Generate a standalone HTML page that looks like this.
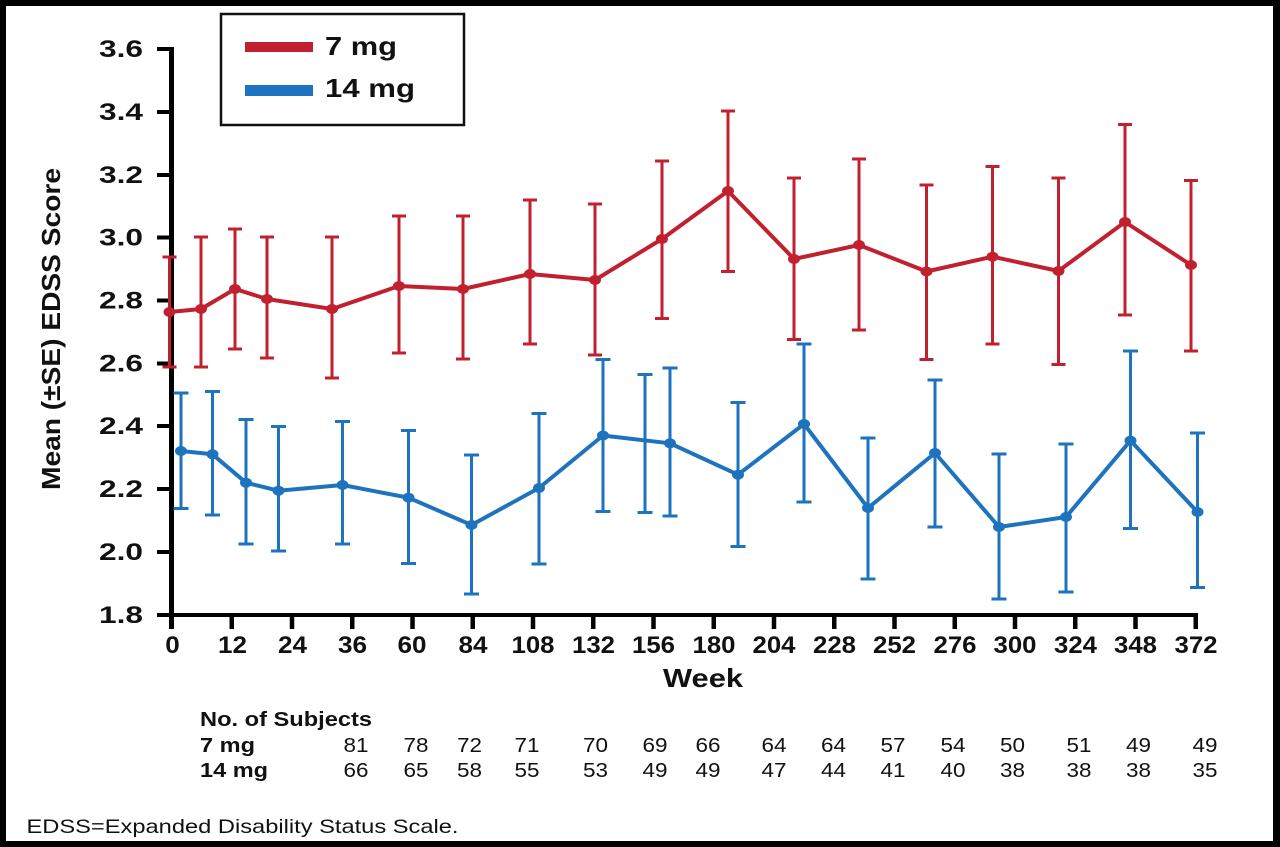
<!DOCTYPE html>
<html>
<head>
<meta charset="utf-8">
<style>
  html,body{margin:0;padding:0;background:#000;}
  svg{display:block;}
  text{font-family:"Liberation Sans",Arial,sans-serif;fill:#111;}
  .b{font-weight:bold;}
</style>
</head>
<body>
<svg width="1280" height="847" viewBox="0 0 1280 847" xmlns="http://www.w3.org/2000/svg">
  <rect x="0" y="0" width="1280" height="847" fill="#000"/>
  <rect x="6" y="6" width="1267" height="835" fill="#fff"/>

  <!-- Y axis -->
  <line x1="171.5" y1="47" x2="171.5" y2="629" stroke="#000" stroke-width="5"/>
  <!-- X axis -->
  <line x1="169" y1="615" x2="1198" y2="615" stroke="#000" stroke-width="4"/>

  <!-- Y ticks -->
  <g stroke="#000" stroke-width="4">
    <line x1="157" y1="49" x2="172" y2="49"/>
    <line x1="157" y1="112" x2="172" y2="112"/>
    <line x1="157" y1="175" x2="172" y2="175"/>
    <line x1="157" y1="237.5" x2="172" y2="237.5"/>
    <line x1="157" y1="300.5" x2="172" y2="300.5"/>
    <line x1="157" y1="363.5" x2="172" y2="363.5"/>
    <line x1="157" y1="426" x2="172" y2="426"/>
    <line x1="157" y1="489" x2="172" y2="489"/>
    <line x1="157" y1="552" x2="172" y2="552"/>
    <line x1="157" y1="615" x2="172" y2="615"/>
  </g>
  <g class="b" font-size="24" text-anchor="end">
    <text x="143" y="57" textLength="44" lengthAdjust="spacingAndGlyphs">3.6</text>
    <text x="143" y="120" textLength="44" lengthAdjust="spacingAndGlyphs">3.4</text>
    <text x="143" y="183" textLength="44" lengthAdjust="spacingAndGlyphs">3.2</text>
    <text x="143" y="245.5" textLength="44" lengthAdjust="spacingAndGlyphs">3.0</text>
    <text x="143" y="308.5" textLength="44" lengthAdjust="spacingAndGlyphs">2.8</text>
    <text x="143" y="371.5" textLength="44" lengthAdjust="spacingAndGlyphs">2.6</text>
    <text x="143" y="434" textLength="44" lengthAdjust="spacingAndGlyphs">2.4</text>
    <text x="143" y="497" textLength="44" lengthAdjust="spacingAndGlyphs">2.2</text>
    <text x="143" y="560" textLength="44" lengthAdjust="spacingAndGlyphs">2.0</text>
    <text x="143" y="623" textLength="44" lengthAdjust="spacingAndGlyphs">1.8</text>
  </g>

  <!-- X ticks -->
  <g stroke="#000" stroke-width="4.5">
    <line x1="171.5" y1="615" x2="171.5" y2="629"/>
    <line x1="231.75" y1="615" x2="231.75" y2="629"/>
    <line x1="292" y1="615" x2="292" y2="629"/>
    <line x1="352.25" y1="615" x2="352.25" y2="629"/>
    <line x1="412.5" y1="615" x2="412.5" y2="629"/>
    <line x1="472.75" y1="615" x2="472.75" y2="629"/>
    <line x1="533" y1="615" x2="533" y2="629"/>
    <line x1="593.25" y1="615" x2="593.25" y2="629"/>
    <line x1="653.5" y1="615" x2="653.5" y2="629"/>
    <line x1="713.75" y1="615" x2="713.75" y2="629"/>
    <line x1="774" y1="615" x2="774" y2="629"/>
    <line x1="834.25" y1="615" x2="834.25" y2="629"/>
    <line x1="894.5" y1="615" x2="894.5" y2="629"/>
    <line x1="954.75" y1="615" x2="954.75" y2="629"/>
    <line x1="1015" y1="615" x2="1015" y2="629"/>
    <line x1="1075.25" y1="615" x2="1075.25" y2="629"/>
    <line x1="1135.5" y1="615" x2="1135.5" y2="629"/>
    <line x1="1195.75" y1="615" x2="1195.75" y2="629"/>
  </g>
  <g class="b" font-size="24.5" text-anchor="middle">
    <text x="172.5" y="653" textLength="14.5" lengthAdjust="spacingAndGlyphs">0</text>
    <text x="232.5" y="653" textLength="29" lengthAdjust="spacingAndGlyphs">12</text>
    <text x="292.5" y="653" textLength="29" lengthAdjust="spacingAndGlyphs">24</text>
    <text x="352.5" y="653" textLength="29" lengthAdjust="spacingAndGlyphs">36</text>
    <text x="412" y="653" textLength="29" lengthAdjust="spacingAndGlyphs">60</text>
    <text x="473" y="653" textLength="29" lengthAdjust="spacingAndGlyphs">84</text>
    <text x="533" y="653" textLength="43" lengthAdjust="spacingAndGlyphs">108</text>
    <text x="593.5" y="653" textLength="43" lengthAdjust="spacingAndGlyphs">132</text>
    <text x="653.5" y="653" textLength="43" lengthAdjust="spacingAndGlyphs">156</text>
    <text x="714" y="653" textLength="43" lengthAdjust="spacingAndGlyphs">180</text>
    <text x="774" y="653" textLength="43" lengthAdjust="spacingAndGlyphs">204</text>
    <text x="834.5" y="653" textLength="43" lengthAdjust="spacingAndGlyphs">228</text>
    <text x="894.5" y="653" textLength="43" lengthAdjust="spacingAndGlyphs">252</text>
    <text x="955" y="653" textLength="43" lengthAdjust="spacingAndGlyphs">276</text>
    <text x="1015" y="653" textLength="43" lengthAdjust="spacingAndGlyphs">300</text>
    <text x="1075.5" y="653" textLength="43" lengthAdjust="spacingAndGlyphs">324</text>
    <text x="1135.5" y="653" textLength="43" lengthAdjust="spacingAndGlyphs">348</text>
    <text x="1196" y="653" textLength="43" lengthAdjust="spacingAndGlyphs">372</text>
  </g>

  <text class="b" x="663" y="687" font-size="26" textLength="80" lengthAdjust="spacingAndGlyphs">Week</text>

  <text class="b" font-size="26" text-anchor="middle" transform="translate(60,329) rotate(-90)" textLength="322" lengthAdjust="spacingAndGlyphs">Mean (±SE) EDSS Score</text>

  <!-- Legend -->
  <rect x="221" y="14" width="243" height="111" fill="#fff" stroke="#111" stroke-width="2.5"/>
  <rect x="245" y="42" width="68" height="10" fill="#C1202F"/>
  <rect x="245" y="85" width="68" height="11" fill="#1E73BE"/>
  <text class="b" x="325" y="55" font-size="26" textLength="72" lengthAdjust="spacingAndGlyphs">7 mg</text>
  <text class="b" x="325" y="97" font-size="26" textLength="90" lengthAdjust="spacingAndGlyphs">14 mg</text>

  <!-- Red series (7 mg) -->
  <g stroke="#C1202F" stroke-width="3" fill="none">
    <path d="M169.5 257V367 M162.5 257H176.5 M162.5 367H176.5"/>
    <path d="M201 237V367 M194 237H208 M194 367H208"/>
    <path d="M235 229V349 M228 229H242 M228 349H242"/>
    <path d="M267 237V358 M260 237H274 M260 358H274"/>
    <path d="M332 237V378 M325 237H339 M325 378H339"/>
    <path d="M399 216V353 M392 216H406 M392 353H406"/>
    <path d="M463 216V359 M456 216H470 M456 359H470"/>
    <path d="M530 200V344 M523 200H537 M523 344H537"/>
    <path d="M595 204V355 M588 204H602 M588 355H602"/>
    <path d="M662 161V318.5 M655 161H669 M655 318.5H669"/>
    <path d="M728 111V271.5 M721 111H735 M721 271.5H735"/>
    <path d="M794 178V339.5 M787 178H801 M787 339.5H801"/>
    <path d="M859 159V330 M852 159H866 M852 330H866"/>
    <path d="M926.5 185V359.5 M919.5 185H933.5 M919.5 359.5H933.5"/>
    <path d="M992.5 166.5V344 M985.5 166.5H999.5 M985.5 344H999.5"/>
    <path d="M1058.5 178V364.5 M1051.5 178H1065.5 M1051.5 364.5H1065.5"/>
    <path d="M1125 124.5V315 M1118 124.5H1132 M1118 315H1132"/>
    <path d="M1191 180.5V351 M1184 180.5H1198 M1184 351H1198"/>
  </g>
  <polyline fill="none" stroke="#C1202F" stroke-width="4" stroke-linejoin="round"
    points="169.5,312 201,309 235,289 267,299 332,309 399,286 463,289 530,274 595,280 662,239 728,191 794,259 859,245 926.5,271.5 992.5,256.7 1058.5,271 1125,222 1191,265"/>
  <g fill="#C1202F">
    <ellipse cx="169.5" cy="312" rx="6" ry="5"/>
    <ellipse cx="201" cy="309" rx="6" ry="5"/>
    <ellipse cx="235" cy="289" rx="6" ry="5"/>
    <ellipse cx="267" cy="299" rx="6" ry="5"/>
    <ellipse cx="332" cy="309" rx="6" ry="5"/>
    <ellipse cx="399" cy="286" rx="6" ry="5"/>
    <ellipse cx="463" cy="289" rx="6" ry="5"/>
    <ellipse cx="530" cy="274" rx="6" ry="5"/>
    <ellipse cx="595" cy="280" rx="6" ry="5"/>
    <ellipse cx="662" cy="239" rx="6" ry="5"/>
    <ellipse cx="728" cy="191" rx="6" ry="5"/>
    <ellipse cx="794" cy="259" rx="6" ry="5"/>
    <ellipse cx="859" cy="245" rx="6" ry="5"/>
    <ellipse cx="926.5" cy="271.5" rx="6" ry="5"/>
    <ellipse cx="992.5" cy="256.7" rx="6" ry="5"/>
    <ellipse cx="1058.5" cy="271" rx="6" ry="5"/>
    <ellipse cx="1125" cy="222" rx="6" ry="5"/>
    <ellipse cx="1191" cy="265" rx="6" ry="5"/>
  </g>

  <!-- Blue series (14 mg) -->
  <g stroke="#1E73BE" stroke-width="3" fill="none">
    <path d="M181 393V508.5 M173.5 393H188.5 M173.5 508.5H188.5"/>
    <path d="M212.5 391.5V515 M205 391.5H220 M205 515H220"/>
    <path d="M246 419.5V544 M238.5 419.5H253.5 M238.5 544H253.5"/>
    <path d="M278.5 426.5V551 M271 426.5H286 M271 551H286"/>
    <path d="M342.5 421.5V544 M335 421.5H350 M335 544H350"/>
    <path d="M408.5 430.5V563.5 M401 430.5H416 M401 563.5H416"/>
    <path d="M471.5 455V594 M464 455H479 M464 594H479"/>
    <path d="M539 413.5V564 M531.5 413.5H546.5 M531.5 564H546.5"/>
    <path d="M603 359.5V511.5 M595.5 359.5H610.5 M595.5 511.5H610.5"/>
    <path d="M645 374.5V512.5 M637.5 374.5H652.5 M637.5 512.5H652.5"/>
    <path d="M670 368V516 M662.5 368H677.5 M662.5 516H677.5"/>
    <path d="M738 402.5V546.5 M730.5 402.5H745.5 M730.5 546.5H745.5"/>
    <path d="M804 344V502 M796.5 344H811.5 M796.5 502H811.5"/>
    <path d="M868 438V579 M860.5 438H875.5 M860.5 579H875.5"/>
    <path d="M935 380V527 M927.5 380H942.5 M927.5 527H942.5"/>
    <path d="M999 454V599 M991.5 454H1006.5 M991.5 599H1006.5"/>
    <path d="M1066 444V592 M1058.5 444H1073.5 M1058.5 592H1073.5"/>
    <path d="M1130.5 351V528.5 M1123 351H1138 M1123 528.5H1138"/>
    <path d="M1197.5 433V587.5 M1190 433H1205 M1190 587.5H1205"/>
  </g>
  <polyline fill="none" stroke="#1E73BE" stroke-width="4" stroke-linejoin="round"
    points="181,451 212.5,454.3 246,482.7 278.5,490.7 342.5,485 408.5,497.7 471.5,525 539,488 603,435.5 670,443.3 738,474.7 804,424 868,508 935,453 999,527 1066,517 1130.5,440.6 1197.5,512"/>
  <g fill="#1E73BE">
    <ellipse cx="181" cy="451" rx="6" ry="5"/>
    <ellipse cx="212.5" cy="454.3" rx="6" ry="5"/>
    <ellipse cx="246" cy="482.7" rx="6" ry="5"/>
    <ellipse cx="278.5" cy="490.7" rx="6" ry="5"/>
    <ellipse cx="342.5" cy="485" rx="6" ry="5"/>
    <ellipse cx="408.5" cy="497.7" rx="6" ry="5"/>
    <ellipse cx="471.5" cy="525" rx="6" ry="5"/>
    <ellipse cx="539" cy="488" rx="6" ry="5"/>
    <ellipse cx="603" cy="435.5" rx="6" ry="5"/>
    <ellipse cx="670" cy="443.3" rx="6" ry="5"/>
    <ellipse cx="738" cy="474.7" rx="6" ry="5"/>
    <ellipse cx="804" cy="424" rx="6" ry="5"/>
    <ellipse cx="868" cy="508" rx="6" ry="5"/>
    <ellipse cx="935" cy="453" rx="6" ry="5"/>
    <ellipse cx="999" cy="527" rx="6" ry="5"/>
    <ellipse cx="1066" cy="517" rx="6" ry="5"/>
    <ellipse cx="1130.5" cy="440.6" rx="6" ry="5"/>
    <ellipse cx="1197.5" cy="512" rx="6" ry="5"/>
  </g>

  <!-- Subjects table -->
  <text class="b" x="200" y="726" font-size="20" textLength="172" lengthAdjust="spacingAndGlyphs">No. of Subjects</text>
  <text class="b" x="200" y="752" font-size="20" textLength="55" lengthAdjust="spacingAndGlyphs">7 mg</text>
  <text class="b" x="200" y="777" font-size="20" textLength="68" lengthAdjust="spacingAndGlyphs">14 mg</text>
  <g font-size="20.5" text-anchor="middle">
    <text x="356" y="752" textLength="25" lengthAdjust="spacingAndGlyphs">81</text>
    <text x="416" y="752" textLength="25" lengthAdjust="spacingAndGlyphs">78</text>
    <text x="469.5" y="752" textLength="25" lengthAdjust="spacingAndGlyphs">72</text>
    <text x="527" y="752" textLength="25" lengthAdjust="spacingAndGlyphs">71</text>
    <text x="595.5" y="752" textLength="25" lengthAdjust="spacingAndGlyphs">70</text>
    <text x="655" y="752" textLength="25" lengthAdjust="spacingAndGlyphs">69</text>
    <text x="708" y="752" textLength="25" lengthAdjust="spacingAndGlyphs">66</text>
    <text x="774" y="752" textLength="25" lengthAdjust="spacingAndGlyphs">64</text>
    <text x="833.5" y="752" textLength="25" lengthAdjust="spacingAndGlyphs">64</text>
    <text x="893" y="752" textLength="25" lengthAdjust="spacingAndGlyphs">57</text>
    <text x="953" y="752" textLength="25" lengthAdjust="spacingAndGlyphs">54</text>
    <text x="1012.5" y="752" textLength="25" lengthAdjust="spacingAndGlyphs">50</text>
    <text x="1079" y="752" textLength="25" lengthAdjust="spacingAndGlyphs">51</text>
    <text x="1138.5" y="752" textLength="25" lengthAdjust="spacingAndGlyphs">49</text>
    <text x="1205" y="752" textLength="25" lengthAdjust="spacingAndGlyphs">49</text>

    <text x="356" y="777" textLength="25" lengthAdjust="spacingAndGlyphs">66</text>
    <text x="416" y="777" textLength="25" lengthAdjust="spacingAndGlyphs">65</text>
    <text x="469.5" y="777" textLength="25" lengthAdjust="spacingAndGlyphs">58</text>
    <text x="527" y="777" textLength="25" lengthAdjust="spacingAndGlyphs">55</text>
    <text x="595.5" y="777" textLength="25" lengthAdjust="spacingAndGlyphs">53</text>
    <text x="655" y="777" textLength="25" lengthAdjust="spacingAndGlyphs">49</text>
    <text x="708" y="777" textLength="25" lengthAdjust="spacingAndGlyphs">49</text>
    <text x="774" y="777" textLength="25" lengthAdjust="spacingAndGlyphs">47</text>
    <text x="833.5" y="777" textLength="25" lengthAdjust="spacingAndGlyphs">44</text>
    <text x="893" y="777" textLength="25" lengthAdjust="spacingAndGlyphs">41</text>
    <text x="953" y="777" textLength="25" lengthAdjust="spacingAndGlyphs">40</text>
    <text x="1012.5" y="777" textLength="25" lengthAdjust="spacingAndGlyphs">38</text>
    <text x="1079" y="777" textLength="25" lengthAdjust="spacingAndGlyphs">38</text>
    <text x="1138.5" y="777" textLength="25" lengthAdjust="spacingAndGlyphs">38</text>
    <text x="1205" y="777" textLength="25" lengthAdjust="spacingAndGlyphs">35</text>
  </g>

  <text x="26.5" y="833" font-size="19.5" textLength="432" lengthAdjust="spacingAndGlyphs">EDSS=Expanded Disability Status Scale.</text>
</svg>
</body>
</html>
